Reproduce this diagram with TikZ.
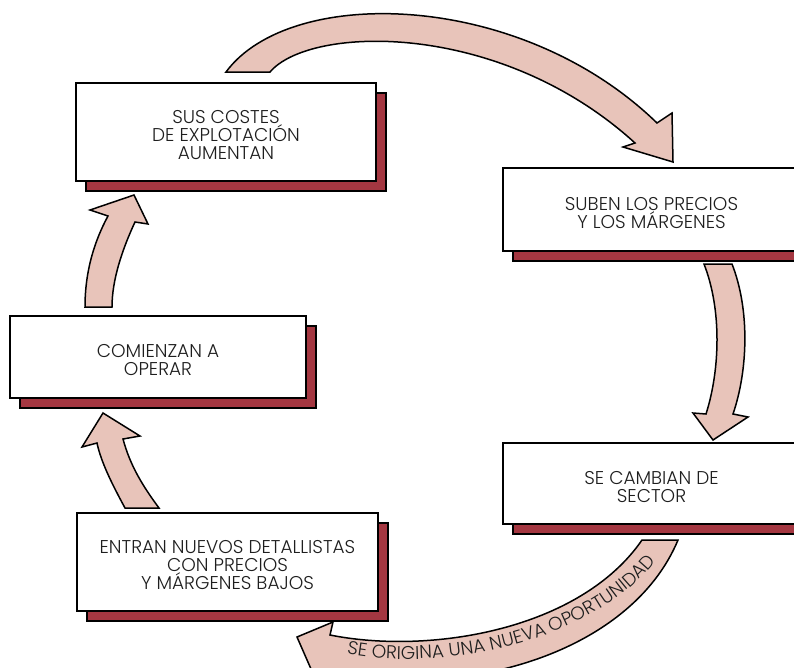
\documentclass[tikz,border=0pt]{standalone}
\usepackage{fontspec}
\setmainfont{Poppins Light}
\usepackage{xcolor}
\usepackage{tikz}
\usetikzlibrary{calc, decorations.text}
\definecolor{shadowred}{RGB}{164, 55, 65}
\definecolor{arrowpink}{RGB}{232, 196, 186}
\definecolor{textgray}{RGB}{30, 30, 30}
\newcommand{\lineatope}{\rule{0pt}{19.5pt}}

\begin{document}
\begin{tikzpicture}[
    x=1pt, y=-1pt,
    caja/.style={rectangle, draw=black, line width=1.6pt, fill=white,
                 inner sep=0pt, align=center, text=textgray,
                 font=\fontsize{18.5}{17.8}\selectfont,
                 preaction={draw=black, fill=shadowred,
                            transform canvas={shift={(10pt,-10pt)}}}},
    flecha/.style={draw=black, line width=1.5pt, fill=arrowpink, line join=miter}
]
    \clip (0,0) rectangle (794,667);

    % Boxes
    \node[caja, minimum width=300pt, minimum height=98pt] (costes) at (226,132) {
        \lineatope SUS COSTES\\
        DE EXPLOTACIÓN\\
        AUMENTAN
    };

    \node[caja, minimum width=297pt, minimum height=83pt] (precios) at (651.5,209.5) {
        \lineatope SUBEN LOS PRECIOS\\
        Y LOS MÁRGENES
    };

    \node[caja, minimum width=297pt, minimum height=81pt] (sector) at (651.5,483.5) {
        \lineatope SE CAMBIAN DE\\
        SECTOR
    };

    \node[caja, minimum width=296pt, minimum height=82pt] (operar) at (158,357) {
        \lineatope COMIENZAN A\\
        OPERAR
    };

    \node[caja, minimum width=301pt, minimum height=98pt] (nuevos) at (227.5,562) {
        \lineatope ENTRAN NUEVOS DETALLISTAS\\
        CON PRECIOS\\
        Y MÁRGENES BAJOS
    };

    % Arrows
    \draw[flecha] (226,72) .. controls (290,-15) and (520,-10) .. (657,123)
        -- (672,113) -- (673,162) -- (623,147) -- (635,143)
        .. controls (500,20) and (310,25) .. (270,72) -- cycle;

    \draw[flecha] (704,264) .. controls (722,310) and (720,370) .. (706,414)
        -- (693,413) -- (713,440) -- (748,417) -- (733,414)
        .. controls (748,370) and (750,310) .. (732,264) -- cycle;

    \draw[flecha] (642,540) .. controls (580,630) and (430,655) .. (330,635)
        -- (333,622) -- (297,637) -- (318,685) -- (335,672)
        .. controls (460,700) and (630,655) .. (678,540) -- cycle;

    \draw[flecha] (125,508) .. controls (112,484) and (101,462) .. (97,443)
        -- (82,447) -- (103,413) -- (140,436) -- (123,439)
        .. controls (130,465) and (142,485) .. (159,508) -- cycle;

    \draw[flecha] (85,307) .. controls (85,270) and (95,240) .. (108,216)
        -- (90,210) -- (134,195) -- (148,224) -- (135,222)
        .. controls (122,250) and (112,280) .. (112,307) -- cycle;

    % Curved label
    \path[decorate, decoration={text along path, text align=center,
          text format delimiters={|}{|},
          text={|\fontsize{18.5}{18.5}\selectfont\color{textgray}|SE ORIGINA UNA NUEVA OPORTUNIDAD}}]
        (334,650) .. controls (400,672) and (585,660) .. (664,551);
\end{tikzpicture}
\end{document}
